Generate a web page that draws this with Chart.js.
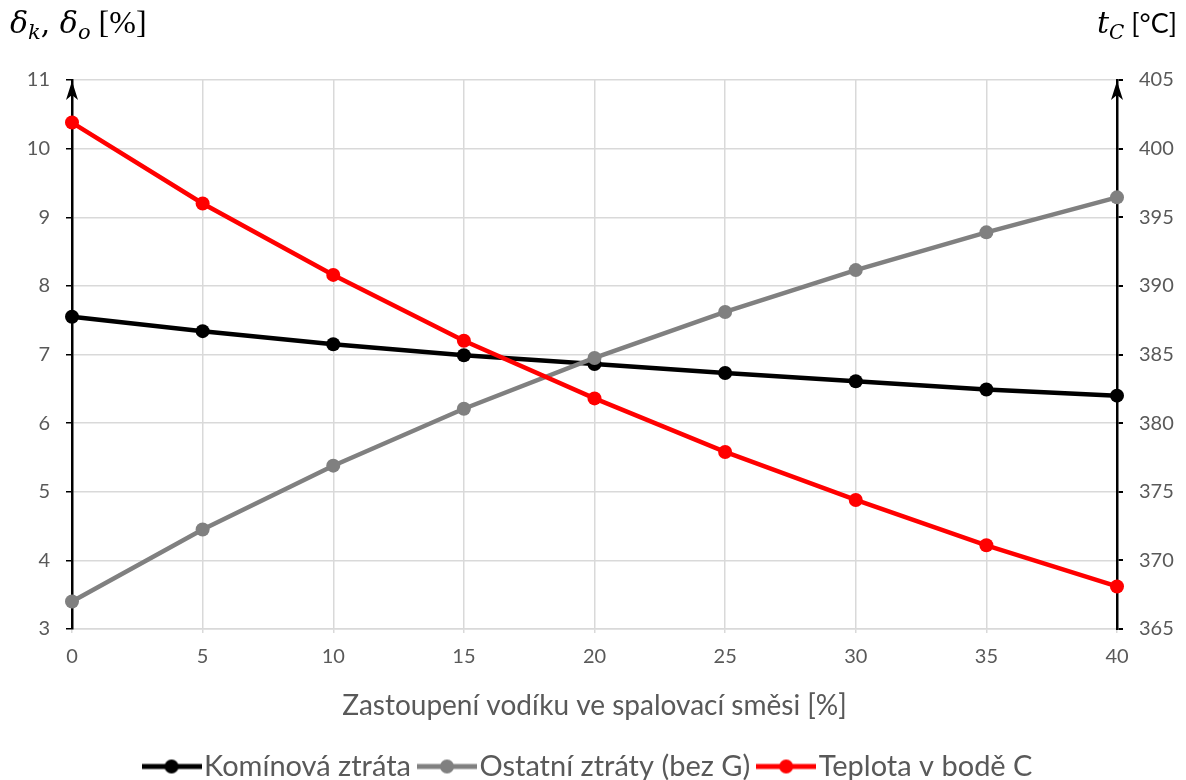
<!DOCTYPE html>
<html>
<head>
<meta charset="utf-8">
<script src="https://cdn.jsdelivr.net/npm/chart.js@4.4.1/dist/chart.umd.min.js"></script>
<style>
  body { margin: 0; background: #fff; }
  #wrap { width: 1186px; height: 780px; }
</style>
</head>
<body>
<div id="wrap"><canvas id="chart"></canvas></div>
<script>
// podíl vodíku [%]
const podilH2 = [0, 5, 10, 15, 20, 25, 30, 35, 40];
// komínová ztráta [%]
const kominova = [7.55, 7.34, 7.15, 6.99, 6.86, 6.73, 6.61, 6.49, 6.40];
// ostatní ztráty bez G [%]
const ostatni = [3.40, 4.45, 5.38, 6.21, 6.95, 7.62, 8.23, 8.78, 9.29];
// teplota v bodě C [°C]
const teplota = [401.9, 396.0, 390.8, 386.0, 381.8, 377.9, 374.4, 371.1, 368.1];

const labels = ['Komínová ztráta', 'Ostatní ztráty (bez G)', 'Teplota v bodě C'];
const barvy = ['#000000', '#808080', '#ff0000'];

const FONT = 'Lato';
const TXT = '#595959';
const GRID = '#d9d9d9';

const toXY = (vals) => vals.map((v, i) => ({ x: podilH2[i], y: v }));

// znacka do legendy: cara + kolecko
function marker(color) {
    const c = document.createElement('canvas');
    c.width = 60; c.height = 16;
    const g = c.getContext('2d');
    g.strokeStyle = color; g.lineWidth = 5;
    g.beginPath(); g.moveTo(0, 8); g.lineTo(60, 8); g.stroke();
    g.fillStyle = color;
    g.beginPath(); g.arc(30, 8, 7, 0, Math.PI * 2); g.fill();
    return c;
}

function serie(i, data, axis, order) {
    return {
        label: labels[i], data: toXY(data), yAxisID: axis, order: order,
        borderColor: barvy[i], backgroundColor: barvy[i],
        borderWidth: 4.5, pointRadius: 7, pointHoverRadius: 7,
        pointBackgroundColor: barvy[i], pointBorderWidth: 0,
        tension: 0, clip: false
    };
}

// nadpisy os a sipky
const osyPlugin = {
    id: 'osy',
    afterDraw(chart) {
        const { ctx, chartArea: a } = chart;
        ctx.save();
        const sipka = (x) => {
            ctx.fillStyle = '#000';
            ctx.beginPath();
            ctx.moveTo(x, a.top + 1);
            ctx.lineTo(x - 6, a.top + 20);
            ctx.lineTo(x, a.top + 15);
            ctx.lineTo(x + 6, a.top + 20);
            ctx.closePath();
            ctx.fill();
        };
        sipka(a.left);
        sipka(a.right);

        ctx.fillStyle = '#000';
        ctx.textBaseline = 'alphabetic';
        let x = 10;
        const put = (t, font, dy) => {
            ctx.font = font;
            ctx.fillText(t, x, 33 + dy);
            x += ctx.measureText(t).width;
        };
        put('δ', 'italic 30px "DejaVu Serif"', 0);
        put('k', 'italic 21px "DejaVu Serif"', 6);
        put(', ', '30px "DejaVu Serif"', 0);
        put('δ', 'italic 30px "DejaVu Serif"', 0);
        put('o', 'italic 21px "DejaVu Serif"', 6);
        put(' [%]', '32px "Liberation Serif"', 0);

        x = 1097;
        put('t', 'italic 30px "DejaVu Serif"', 0);
        put('C', 'italic 20px "DejaVu Serif"', 6);
        put(' [°C]', '27px ' + FONT, 0);
        ctx.restore();
    }
};

new Chart(document.getElementById('chart'), {
    type: 'line',
    data: {
        datasets: [
            serie(0, kominova, 'y', 2),
            serie(1, ostatni, 'y', 1),
            serie(2, teplota, 'y1', 0)
        ]
    },
    options: {
        responsive: true, maintainAspectRatio: false,
        animation: false,
        layout: { padding: { top: 80, left: 0, right: 0, bottom: -11 } },
        plugins: {
            tooltip: { enabled: false },
            legend: {
                position: 'bottom',
                labels: {
                    color: TXT,
                    font: { family: FONT, size: 29 },
                    usePointStyle: true,
                    pointStyleWidth: 36,
                    padding: 18,
                    sort: (a, b) => a.datasetIndex - b.datasetIndex,
                    generateLabels(chart) {
                        const items = Chart.defaults.plugins.legend.labels.generateLabels(chart);
                        items.forEach(it => { it.pointStyle = marker(barvy[it.datasetIndex]); });
                        return items;
                    }
                }
            }
        },
        scales: {
            x: {
                type: 'linear', min: 0, max: 40,
                ticks: { stepSize: 5, color: TXT, font: { family: FONT, size: 20 }, padding: 12 },
                grid: { color: GRID, lineWidth: 1.5, tickLength: 4 },
                border: { color: GRID, width: 1.5 },
                title: {
                    display: true, text: 'Zastoupení vodíku ve spalovací směsi [%]',
                    color: TXT, font: { family: FONT, size: 28 },
                    padding: { top: 14, bottom: 11 }
                },
                afterFit(s) { s.height = 105; }
            },
            y: {
                position: 'left', min: 3, max: 11,
                ticks: { stepSize: 1, color: TXT, font: { family: FONT, size: 20 }, padding: 16 },
                grid: { color: GRID, lineWidth: 1.5, tickColor: '#000', tickLength: 6 },
                border: { color: '#000', width: 2.5 },
                afterFit(s) { s.width = 72; }
            },
            y1: {
                position: 'right', min: 365, max: 405,
                ticks: { stepSize: 5, color: TXT, font: { family: FONT, size: 20 }, padding: 16 },
                grid: { drawOnChartArea: false, tickColor: '#000', tickLength: 6, lineWidth: 2 },
                border: { color: '#000', width: 2.5 },
                afterFit(s) { s.width = 69; }
            }
        }
    },
    plugins: [osyPlugin]
});
</script>
</body>
</html>
